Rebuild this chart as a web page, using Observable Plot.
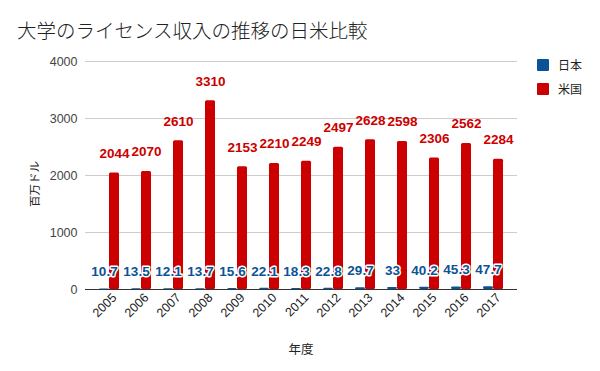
<!DOCTYPE html>
<html>
<head>
<meta charset="utf-8">
<script src="https://cdn.jsdelivr.net/npm/d3@7"></script>
<script src="https://cdn.jsdelivr.net/npm/@observablehq/plot@0.6"></script>
<style>
  html, body { margin: 0; padding: 0; background: #fff; }
  #wrap { position: relative; width: 600px; height: 371px; font-family: "Liberation Sans", Arial, "Noto Sans CJK JP", sans-serif; }
  #title { position: absolute; left: 17px; top: 17px; font-family: "Noto Sans CJK JP", sans-serif; font-size: 19.5px; font-weight: 300; color: #222; white-space: nowrap; line-height: 26px; }
  #ylab { position: absolute; left: 34px; top: 184px; transform: translate(-50%, -50%) rotate(-90deg); font-family: "Noto Sans CJK JP", sans-serif; font-size: 11.5px; color: #222; white-space: nowrap; }
  #xlab { position: absolute; left: 301px; top: 348px; transform: translate(-50%, -50%); font-family: "Noto Sans CJK JP", sans-serif; font-size: 12.5px; color: #222; white-space: nowrap; }
  .leg { position: absolute; left: 537px; font-family: "Noto Sans CJK JP", sans-serif; font-size: 12px; color: #222; white-space: nowrap; display: flex; align-items: center; }
  .sw { width: 12px; height: 12px; border-radius: 1px; margin-right: 9px; }
  #chart svg { position: absolute; left: 0; top: 0; }
</style>
</head>
<body>
<div id="wrap">
  <div id="chart"></div>
  <div id="title"></div>
  <div id="ylab"></div>
  <div id="xlab"></div>
  <div id="legend"></div>
</div>
<script>
const title = "大学のライセンス収入の推移の日米比較";
const yAxisTitle = "百万ドル";
const xAxisTitle = "年度";
const seriesNames = ["日本", "米国"];
const seriesColors = ["#0b5394", "#cc0000"];
const years = ["2005","2006","2007","2008","2009","2010","2011","2012","2013","2014","2015","2016","2017"];
const japan = [10.7, 13.5, 12.1, 13.7, 15.6, 22.1, 18.3, 22.8, 29.7, 33, 40.2, 45.3, 47.7];
const usa = [2044, 2070, 2610, 3310, 2153, 2210, 2249, 2497, 2628, 2598, 2306, 2562, 2284];
const yTicks = [0, 1000, 2000, 3000, 4000];

const rows = years.map((y, i) => ({year: y, jp: japan[i], us: usa[i]}));

document.getElementById("title").textContent = title;
document.getElementById("ylab").textContent = yAxisTitle;
document.getElementById("xlab").textContent = xAxisTitle;
const leg = document.getElementById("legend");
seriesNames.forEach((n, i) => {
  const d = document.createElement("div");
  d.className = "leg";
  d.style.top = (56 + i * 24) + "px";
  d.innerHTML = `<span class="sw" style="background:${seriesColors[i]}"></span><span></span>`;
  d.lastChild.textContent = n;
  leg.appendChild(d);
});

const labelFont = "Liberation Sans, Arial, sans-serif";

const chart = Plot.plot({
  width: 600,
  height: 371,
  marginTop: 61,
  marginBottom: 82,
  marginLeft: 85,
  marginRight: 83,
  style: {fontFamily: labelFont, fontSize: "12px", color: "#333", background: "transparent"},
  x: {domain: years, type: "band", paddingInner: 0.385, paddingOuter: 0.34, label: null},
  y: {domain: [0, 4000], label: null},
  marks: [
    Plot.ruleY(yTicks.filter(t => t > 0), {stroke: "#cccccc", strokeWidth: 1}),
    Plot.axisY({ticks: yTicks, tickFormat: d => String(d), tickSize: 0, tickPadding: 8, fill: "#444", fontSize: 12.5, label: null}),
    Plot.axisX({tickRotate: -45, tickSize: 0, tickPadding: 6, dx: 5, fill: "#222", fontSize: 12.5, label: null}),
    Plot.barY(rows, {x: "year", y: "jp", fill: seriesColors[0], insetRight: 10, rx: 1.5}),
    Plot.barY(rows, {x: "year", y: "us", fill: seriesColors[1], insetLeft: 10, rx: 1.5}),
    Plot.ruleY([0], {stroke: "#333", strokeWidth: 1}),
    Plot.text(rows, {x: "year", y: "us", text: d => String(d.us), dx: 5, dy: -19.5, lineAnchor: "middle", fill: seriesColors[1], fontWeight: "bold", fontSize: 13.5, fontFamily: labelFont}),
    Plot.text(rows, {x: "year", y: "jp", text: d => String(d.jp), dx: -5, dy: -17, lineAnchor: "middle", fill: seriesColors[0], stroke: "white", strokeWidth: 3, paintOrder: "stroke", fontWeight: "bold", fontSize: 13.5, fontFamily: labelFont})
  ]
});
document.getElementById("chart").appendChild(chart);
</script>
</body>
</html>
